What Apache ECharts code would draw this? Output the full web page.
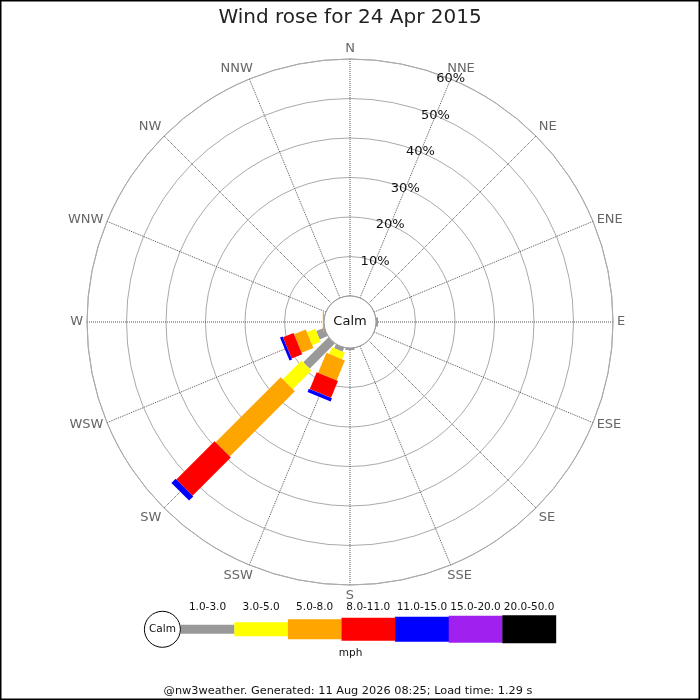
<!DOCTYPE html>
<html>
<head>
<meta charset="utf-8">
<script src="https://cdn.jsdelivr.net/npm/echarts@6/dist/echarts.min.js"></script>
<style>html,body{margin:0;padding:0;background:#fff}#c{width:700px;height:700px}</style>
</head>
<body>
<div id="c"></div>
<script>
// ---------- data ----------
const directions = ['N','NNE','NE','ENE','E','ESE','SE','SSE','S','SSW','SW','WSW','W','WNW','NW','NNW'];
const speedBins = ['1.0-3.0','3.0-5.0','5.0-8.0','8.0-11.0','11.0-15.0','15.0-20.0','20.0-50.0'];
//                  N  NNE NE ENE E    ESE SE SSE S    SSW  SW    WSW  W    WNW NW NNW
const freq1to3   = [0, 0,  0, 0,  0.5, 0,  0, 0,  0.5, 1.1, 9.0,  2.2, 0,   0,  0, 0];
const freq3to5   = [0, 0,  0, 0,  0,   0,  0, 0,  0,   1.8, 6.7,  2.3, 0,   0,  0, 0];
const freq5to8   = [0, 0,  0, 0,  0,   0,  0, 0,  0,   5.5, 23.3, 3.2, 0.3, 0,  0, 0];
const freq8to11  = [0, 0,  0, 0,  0,   0,  0, 0,  0,   4.6, 13.7, 2.9, 0,   0,  0, 0];
const freq11to15 = [0, 0,  0, 0,  0,   0,  0, 0,  0,   0.9, 1.5,  0.7, 0,   0,  0, 0];
const freq15to20 = [0, 0,  0, 0,  0,   0,  0, 0,  0,   0,   0,    0,   0,   0,  0, 0];
const freq20to50 = [0, 0,  0, 0,  0,   0,  0, 0,  0,   0,   0,    0,   0,   0,  0, 0];
const ringTicks = [10, 20, 30, 40, 50, 60];
const ringTickLabels = ['10%', '20%', '30%', '40%', '50%', '60%'];
const titleText = 'Wind rose for 24 Apr 2015';
const unitText = 'mph';
const calmText = 'Calm';
const footerText = '@nw3weather. Generated: 11 Aug 2026 08:25; Load time: 1.29 s';

// ---------- styles ----------
const binColors = ['#999999','#ffff00','#ffa500','#ff0000','#0000ff','#a020f0','#000000'];
const barWidths = [9, 14, 20, 23, 25, 27, 28];
const FONT = 'DejaVu Sans';

const binValues = [freq1to3, freq3to5, freq5to8, freq8to11, freq11to15, freq15to20, freq20to50];
const step = 360 / directions.length;

function barRenderer(b) {
  return function (params, api) {
    const a = api.value(0), e = api.value(1), ang = api.value(2);
    if (!(e > a)) return null;
    const p0 = api.coord([a, ang]);
    const p1 = api.coord([e, ang]);
    const cs = params.coordSys;
    let ux = p1[0] - p0[0], uy = p1[1] - p0[1];
    let L = Math.hypot(ux, uy);
    if (L < 1e-6) { ux = p0[0] - cs.cx; uy = p0[1] - cs.cy; L = Math.hypot(ux, uy); }
    ux /= L; uy /= L;
    const h = barWidths[b] / 2, nx = -uy * h, ny = ux * h;
    return {
      type: 'polygon',
      shape: { points: [[p0[0] + nx, p0[1] + ny], [p1[0] + nx, p1[1] + ny], [p1[0] - nx, p1[1] - ny], [p0[0] - nx, p0[1] - ny]] },
      style: { fill: binColors[b] }
    };
  };
}

const cum = directions.map(() => 0);
const barSeries = binValues.map((vals, b) => {
  const data = vals.map((v, i) => { const s = cum[i]; cum[i] = s + v; return [s, s + v, i * step]; });
  return {
    type: 'custom', name: speedBins[b], coordinateSystem: 'polar',
    dimensions: ['from', 'to', 'angle'],
    encode: { radius: ['from', 'to'], angle: 'angle' },
    renderItem: barRenderer(b), data: data, z: 3, silent: true
  };
});

const dirLabelSeries = {
  type: 'custom', coordinateSystem: 'polar', silent: true, z: 4,
  data: directions.map((d, i) => [61, i * step]),
  renderItem: function (params, api) {
    const p = api.coord([api.value(0), api.value(1)]);
    const cs = params.coordSys;
    const dx = p[0] - cs.cx, dy = p[1] - cs.cy, R = Math.hypot(dx, dy);
    const rx = Math.abs(dx) / R;
    const align = rx < 0.3 ? 'center' : (dx > 0 ? 'left' : 'right');
    const va = Math.abs(dy) / R < 0.4 ? 'middle' : (dy > 0 ? 'top' : 'bottom');
    const shift = (rx > 0.3 && rx < 0.5) ? -Math.sign(dx) * 5 : 0;
    return { type: 'text', x: p[0] + shift, y: p[1],
      style: { text: directions[params.dataIndex], fill: '#666', fontSize: 13, fontFamily: FONT, align: align, verticalAlign: va } };
  }
};

const ringLabelSeries = {
  type: 'custom', coordinateSystem: 'polar', silent: true, z: 4,
  data: ringTicks.map(v => [v, step]),
  renderItem: function (params, api) {
    const p = api.coord([api.value(0), api.value(1)]);
    return { type: 'text', x: p[0], y: p[1],
      style: { text: ringTickLabels[params.dataIndex], fill: '#111', fontSize: 13, fontFamily: FONT, align: 'center', verticalAlign: 'middle' } };
  }
};

const calmSeries = {
  type: 'custom', coordinateSystem: 'polar', silent: true, z: 5,
  data: [[0, 0]],
  renderItem: function (params, api) {
    const cs = params.coordSys;
    return { type: 'group', children: [
      { type: 'circle', shape: { cx: cs.cx, cy: cs.cy, r: cs.r0 }, style: { fill: '#fff', stroke: '#999', lineWidth: 1 } },
      { type: 'text', x: cs.cx, y: cs.cy, style: { text: calmText, fill: '#111', fontSize: 13, fontFamily: FONT, align: 'center', verticalAlign: 'middle' } }
    ] };
  }
};

// ---------- legend (graphic) ----------
const legX0 = 180.7, legW = 53.6, legCy = 629.3;
const graphics = [
  { type: 'rect', shape: { x: 0.75, y: 0.75, width: 698.5, height: 698.5 }, style: { fill: 'none', stroke: '#000', lineWidth: 1.5 }, silent: true },
  { type: 'circle', shape: { cx: legX0 - 18.3, cy: legCy, r: 18 }, style: { fill: '#fff', stroke: '#000', lineWidth: 1 }, z: 2 },
  { type: 'text', x: legX0 - 18.3, y: legCy, style: { text: calmText, fill: '#111', fontSize: 10.5, fontFamily: FONT, align: 'center', verticalAlign: 'middle' }, z: 3 },
  { type: 'text', x: legX0 + legW * 3.17, y: 653.5, style: { text: unitText, fill: '#111', fontSize: 10.5, fontFamily: FONT, align: 'center', verticalAlign: 'middle' } },
  { type: 'text', x: 348, y: 691.5, style: { text: footerText, fill: '#111', fontSize: 11.3, fontFamily: FONT, align: 'center', verticalAlign: 'middle' } }
];
speedBins.forEach((lab, b) => {
  const h = barWidths[b];
  graphics.push({ type: 'rect', shape: { x: legX0 + b * legW, y: legCy - h / 2, width: legW + 0.3, height: h }, style: { fill: binColors[b] }, z: 1 });
  graphics.push({ type: 'text', x: legX0 + b * legW + legW / 2, y: 607, style: { text: lab, fill: '#111', fontSize: 10.5, fontFamily: FONT, align: 'center', verticalAlign: 'middle' } });
});

const chart = echarts.init(document.getElementById('c'), null, { renderer: 'canvas' });
chart.setOption({
  animation: false,
  backgroundColor: '#fff',
  textStyle: { fontFamily: FONT },
  title: { text: titleText, left: 'center', top: 3, textStyle: { fontSize: 20, fontWeight: 'normal', fontFamily: FONT, color: '#222' } },
  polar: { center: [350, 322], radius: [26, 263] },
  angleAxis: {
    type: 'value', min: 0, max: 360, interval: step, startAngle: 90, clockwise: true,
    axisLine: { show: true, lineStyle: { color: '#aaa', width: 1 } },
    axisTick: { show: false }, axisLabel: { show: false },
    splitLine: { show: true, lineStyle: { color: '#555', width: 1, type: 'dotted' } }
  },
  radiusAxis: {
    type: 'value', min: 0, max: 60, interval: 10,
    axisLine: { show: false }, axisTick: { show: false }, axisLabel: { show: false },
    splitLine: { show: true, lineStyle: { color: '#aaa', width: 1 } }
  },
  graphic: graphics,
  series: barSeries.concat([ringLabelSeries, dirLabelSeries, calmSeries])
});
</script>
</body>
</html>
